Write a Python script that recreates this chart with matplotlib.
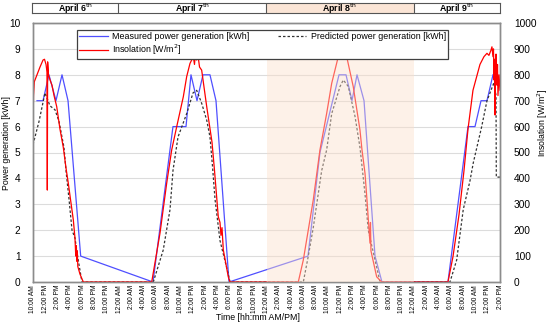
import matplotlib
matplotlib.use("Agg")
import matplotlib.pyplot as plt
from matplotlib.lines import Line2D

plt.rcParams["font.family"] = ["Liberation Sans", "DejaVu Sans"]

# hours counted from April 6, 10:00 AM
meas_t = [0.65, 1.63, 2.60, 3.74, 4.72, 5.70, 7.76, 19.53, 22.78, 24.90, 25.71, 26.69,
          27.66, 28.80, 29.78, 31.90, 44.75, 46.70, 49.80, 50.94, 51.91, 52.73, 53.87,
          55.66, 56.79, 67.53, 70.79, 71.93, 72.91, 73.88, 74.86]
meas_kwh = [7, 7, 8, 7, 8, 7, 1, 0, 6, 6, 8, 7,
            8, 8, 7, 0, 1, 5, 8, 8, 7, 8, 7,
            1, 0, 0, 6, 6, 7, 7, 8]

pred_t = [0.0, 0.98, 1.95, 2.77, 3.58, 4.23, 5.04, 5.37, 5.86, 6.35, 6.83, 7.32, 7.97,
          19.58, 21.20, 22.30, 22.78, 23.60, 25.01, 26.04, 26.64, 27.45, 28.27, 28.80,
          29.20, 29.62, 30.43, 31.73, 32.06,
          43.99, 44.80, 45.61, 46.98, 47.79, 48.61, 49.97, 50.50, 51.31, 52.40, 53.21,
          54.03, 54.56, 55.66, 56.47,
          67.86, 68.95, 70.02, 71.11, 71.65, 73.02, 73.88, 74.37, 75.02, 75.35, 75.40, 76.0]
pred_kwh = [5.3, 6.2, 7.3, 6.8, 6.65, 6.2, 5.2, 4.3, 3.2, 2.0, 1.7, 0.9, 0.0,
            0.0, 1.24, 2.8, 4.3, 5.6, 6.5, 7.3, 7.4, 6.9, 6.25, 5.6,
            4.5, 3.2, 1.6, 0.35, 0.0,
            0.0, 1.0, 2.1, 4.3, 5.1, 6.5, 7.55, 7.8, 7.55, 6.4, 5.2,
            3.4, 2.0, 0.85, 0.0,
            0.0, 0.85, 2.8, 3.9, 4.6, 6.0, 7.0, 7.3, 7.7, 7.2, 4.05, 4.05]

ins_t = [0.0, 0.08, 0.21, 0.65, 1.14, 1.63, 1.87, 2.12, 2.28, 2.33, 2.38, 2.52, 2.77,
         3.09, 3.42, 3.86, 4.39, 4.93, 5.37, 5.74, 6.56, 6.83, 6.96, 7.05, 7.13, 7.21,
         7.29, 7.65, 8.19,
         19.32, 20.67, 21.76, 22.57, 23.39, 24.46, 25.01, 25.55, 26.09, 26.28, 26.44,
         26.64, 26.85, 27.10, 27.45, 28.27, 29.13, 29.54, 30.15, 30.43, 30.59, 30.76,
         30.97, 31.24, 31.78, 32.06,
         43.17, 43.99, 45.61, 46.70, 47.80, 48.61, 49.68, 50.24, 51.05, 52.12, 53.21,
         53.54, 54.03, 54.35, 54.84, 54.92, 55.00, 55.93, 56.75,
         67.53, 68.35, 69.33, 70.14, 70.79, 71.60, 72.74, 73.39, 73.88, 74.20, 74.53,
         74.69, 74.86, 74.94, 75.02, 75.10, 75.18, 75.26, 75.35, 75.51, 75.59, 75.67,
         75.84, 76.00]
ins_wm2 = [580, 720, 773, 800, 830, 857, 860, 840, 810, 355, 850, 800, 780,
           760, 720, 677, 590, 520, 440, 382, 240, 170, 100, 140, 80, 120,
           60, 30, 0,
           0, 189, 382, 510, 600, 715, 793, 844, 870, 840, 885,
           857, 875, 830, 818, 677, 540, 430, 252, 230, 180, 210,
           124, 90, 20, 0,
           0, 85, 317, 510, 652, 767, 870, 890, 870, 754, 587,
           510, 420, 317, 150, 230, 120, 20, 0,
           0, 98, 260, 430, 590, 740, 840, 870, 883, 875, 895,
           908, 870, 900, 780, 860, 645, 820, 880, 760, 840, 720,
           800, 741]

day_names = ["April 6$^{\\mathrm{th}}$", "April 7$^{\\mathrm{th}}$",
             "April 8$^{\\mathrm{th}}$", "April 9$^{\\mathrm{th}}$"]
day_edges = [0, 14, 38, 62, 76]
tick_hours = list(range(0, 77, 2))


def clock_label(h):
    hh = (10 + h) % 24
    suffix = "AM" if hh < 12 else "PM"
    hh12 = hh % 12
    if hh12 == 0:
        hh12 = 12
    return f"{hh12}:00 {suffix}"


tick_labels = [clock_label(h) for h in tick_hours]

fig = plt.figure(figsize=(5.5, 3.28), dpi=100)
W, H = 550, 328

ax = fig.add_axes([33 / W, 1 - 282 / H, 467 / W, 259 / H])
ax2 = ax.twinx()

spine_c = "#8c8c8c"
for a in (ax, ax2):
    for s in a.spines.values():
        s.set_color(spine_c)
        s.set_linewidth(1.0)

ax.set_xlim(0, 76)
ax.set_ylim(0, 10)
ax2.set_ylim(0, 1000)
ax.set_yticks(range(0, 11))
ax2.set_yticks(range(0, 1001, 100))
ax.grid(axis="y", color="#dcdcdc", linewidth=0.8)
ax.set_axisbelow(True)

ax.set_xticks(tick_hours)
ax.set_xticklabels(tick_labels, rotation=90, fontsize=4.8)
ax.tick_params(axis="x", length=0, pad=2)
ax.tick_params(axis="y", length=0, pad=9, labelsize=7.3)
ax2.tick_params(axis="y", length=0, pad=10, labelsize=7.3)

l_meas, = ax.plot(meas_t, meas_kwh, color="#4f4fff", linewidth=0.9)
l_pred, = ax.plot(pred_t, pred_kwh, color="#333333", linewidth=0.9,
                  linestyle=(0, (2, 1.6)))
l_ins, = ax2.plot(ins_t, ins_wm2, color="#ff0000", linewidth=0.9)

# shaded day (drawn above the lines, so they look paler)
ax2.axvspan(day_edges[2], day_edges[3], ymax=0.888, color="#fbe0cc", alpha=0.45,
            linewidth=0, zorder=10)

fig.text(258 / W, 1 - 318 / H, "Time [hh:mm AM/PM]", fontsize=6.3,
         ha="center", va="center")
fig.text(7 / W, 1 - 143 / H, "Power generation [kWh]", fontsize=6.3,
         rotation=90, ha="center", va="center")
fig.text(543 / W, 1 - 123 / H, "Insolation [W/m$^2$]", fontsize=6.3,
         rotation=90, ha="center", va="center")

leg = ax2.legend([l_meas, l_ins, l_pred],
                 ["Measured power generation [kWh]", "Insolation [W/m$^2$]",
                  "Predicted power generation [kWh]"],
                 ncol=2, mode="expand", loc="upper left",
                 bbox_to_anchor=(77 / W, 1 - 52 / H, 371 / W, 22 / H),
                 bbox_transform=fig.transFigure, borderaxespad=0,
                 fontsize=6.4, handlelength=3.2, handletextpad=0.5,
                 labelspacing=0.15, borderpad=0.25, fancybox=False,
                 framealpha=1, edgecolor="#404040")
leg.get_frame().set_linewidth(0.9)
leg.set_zorder(20)

# day header strip
hax = fig.add_axes([32 / W, 1 - 13.3 / H, 468 / W, 10 / H])
hax.set_xlim(0, 76)
hax.set_ylim(0, 1)
hax.set_xticks([])
hax.set_yticks([])
for s in hax.spines.values():
    s.set_color("#555555")
    s.set_linewidth(0.8)
for i, name in enumerate(day_names):
    x0, x1 = day_edges[i], day_edges[i + 1]
    if i == 2:
        hax.axvspan(x0, x1, color="#fbe5d6", linewidth=0)
    if i > 0:
        hax.axvline(x0, color="#555555", linewidth=0.8)
    hax.text((x0 + x1) / 2, 0.45, name, ha="center", va="center",
             fontsize=6.3, fontweight="bold")

fig.savefig("out.png", dpi=100)
